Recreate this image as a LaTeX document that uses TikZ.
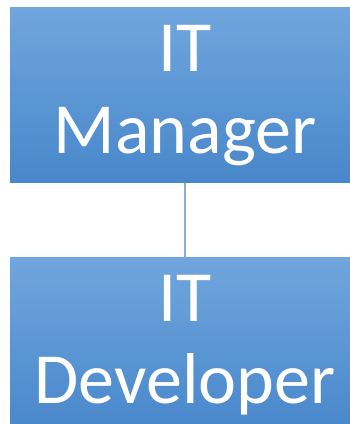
\documentclass[tikz,border=0pt]{standalone}
\usepackage{fontspec}
\setmainfont{Carlito}
\usepackage{xcolor}
\usepackage{tikz}
\usetikzlibrary{positioning}

\definecolor{boxtop}{RGB}{112,166,221}
\definecolor{boxmid}{RGB}{86,152,217}
\definecolor{boxbot}{RGB}{72,135,203}
\definecolor{linkblue}{RGB}{140,173,207}

\begin{document}
\begin{tikzpicture}[
  x=1pt, y=1pt,
  rolebox/.style={rectangle, inner sep=0pt, minimum width=350pt, minimum height=175pt,
    text width=350pt, align=center, text=white,
    top color=boxtop, middle color=boxmid, bottom color=boxbot,
    font=\fontsize{72pt}{82pt}\selectfont},
  link/.style={draw=linkblue, line width=2pt},
]
  \path[use as bounding box, clip] (0,0) rectangle (350,424);

  \node[rolebox] (mgr) at (185,328.5) {IT\\Manager};
  \node[rolebox, below=74pt of mgr] (dev) {IT\\Developer};

  \draw[link] (mgr.south) -- (dev.north);
\end{tikzpicture}
\end{document}
